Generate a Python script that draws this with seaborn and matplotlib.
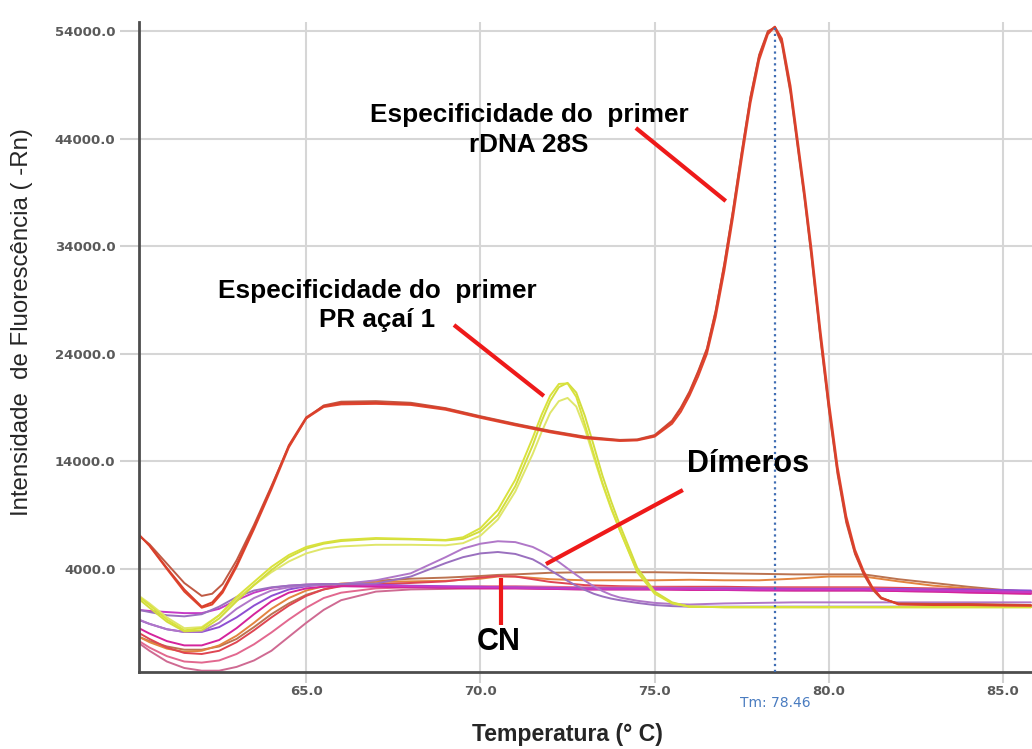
import numpy as np
import pandas as pd
import matplotlib
matplotlib.use("Agg")
import matplotlib.pyplot as plt
import seaborn as sns

# ---------------- data ----------------
temp_red = [60.2, 60.5, 61.0, 61.5, 62.0, 62.3, 62.6, 63.0, 63.5, 64.0, 64.5, 65.0, 65.5, 66.0, 67.0,
            68.0, 69.0, 70.0, 71.0, 72.0, 73.0, 74.0, 74.5, 75.0, 75.5, 75.75, 76.0, 76.25, 76.5, 76.75,
            77.0, 77.25, 77.5, 77.75, 78.0, 78.25, 78.45, 78.65, 78.9, 79.1, 79.3, 79.5, 79.75, 80.0, 80.25,
            80.5, 80.75, 81.0, 81.25, 81.5, 82.0, 83.0, 84.0, 85.0, 85.8]
red_a = [7160, 6200, 4100, 2100, 500, 900, 2000, 4400, 7900, 11600, 15500, 18100, 19150, 19430, 19450,
         19350, 18900, 18150, 17450, 16800, 16250, 15950, 16000, 16400, 17700, 18900, 20400, 22300, 24400, 27900,
         32300, 37300, 42700, 47800, 51700, 53900, 54400, 53000, 48400, 43500, 38600, 33200, 25800, 19000, 13000,
         8500, 5500, 3600, 2200, 1300, 750, 700, 700, 650, 600]
red_b = [7100, 6300, 4500, 2700, 1500, 1700, 2600, 4800, 8100, 11700, 15400, 18000, 19200, 19550, 19600,
         19450, 18950, 18200, 17500, 16850, 16300, 16000, 16050, 16450, 17800, 19000, 20500, 22400, 24500, 28000,
         32400, 37400, 42800, 47900, 51800, 54000, 54300, 52800, 48200, 43300, 38400, 33000, 25600, 18800, 12800,
         8300, 5400, 3500, 2100, 1250, 800, 750, 750, 700, 650]
red_c = [7200, 6150, 4000, 1900, 400, 700, 1800, 4200, 7700, 11400, 15300, 18000, 19050, 19300, 19350,
         19250, 18800, 18050, 17350, 16700, 16150, 15900, 15950, 16300, 17500, 18600, 20100, 21900, 24000, 27400,
         31700, 36700, 42100, 47300, 51300, 53700, 54400, 53300, 48900, 44000, 39100, 33800, 26400, 19600, 13500,
         8900, 5800, 3800, 2300, 1350, 700, 650, 650, 600, 600]

temp_peak = [60.2, 60.5, 61.0, 61.5, 62.0, 62.5, 63.0, 63.5, 64.0, 64.5, 65.0, 65.5, 66.0, 67.0, 68.0,
             69.0, 69.5, 70.0, 70.5, 71.0, 71.5, 71.75, 72.0, 72.25, 72.5, 72.75, 73.0, 73.25, 73.5, 73.75,
             74.0, 74.5, 75.0, 75.5, 76.0, 77.0, 78.0, 79.0, 80.0, 81.0, 82.0, 83.0, 84.0, 85.0, 85.8]
yellow_a = [1400, 650, -700, -1700, -1500, -300, 1400, 2800, 4200, 5300, 6050, 6450, 6700, 6880, 6800,
            6700, 6950, 7800, 9500, 12300, 16200, 18300, 20100, 21200, 21250, 20000, 17400, 14700, 12000, 9700,
            7600, 3700, 1700, 800, 500, 450, 450, 450, 450, 450, 450, 450, 450, 450, 450]
yellow_b = [1200, 400, -900, -1800, -1700, -600, 1000, 2500, 3900, 5100, 5900, 6350, 6600, 6800, 6750,
            6650, 6800, 7500, 9000, 11700, 15500, 17700, 19600, 20900, 21300, 20400, 18200, 15500, 12700, 10300,
            8100, 4100, 1900, 900, 500, 450, 450, 450, 450, 450, 450, 450, 450, 450, 450]
yellow_c = [1500, 800, -500, -1500, -1400, -300, 1200, 2500, 3700, 4700, 5450, 5900, 6100, 6250, 6250,
            6200, 6400, 7100, 8600, 11200, 14700, 16700, 18500, 19600, 19900, 19100, 17000, 14400, 11900, 9600,
            7600, 3800, 1800, 850, 500, 450, 450, 450, 450, 450, 450, 450, 450, 450, 450]
purple_a = [-700, -1100, -1600, -1850, -1800, -1000, 300, 1300, 2000, 2300, 2450, 2550, 2600, 2950, 3600,
            5100, 5900, 6350, 6580, 6500, 6050, 5650, 5200, 4650, 4050, 3450, 2900, 2400, 1950, 1600,
            1350, 1050, 850, 750, 700, 800, 850, 900, 900, 900, 900, 900, 900, 900, 900]
purple_b = [200, 0, -300, -400, -200, 500, 1400, 2000, 2300, 2450, 2550, 2600, 2600, 2650, 3300,
            4550, 5100, 5450, 5580, 5400, 4900, 4450, 3900, 3400, 2900, 2450, 2050, 1700, 1450, 1250,
            1100, 850, 650, 550, 500, 500, 500, 500, 500, 500, 500, 500, 500, 500, 500]

temp_base = [60.2, 60.5, 61.0, 61.5, 62.0, 62.5, 63.0, 63.5, 64.0, 64.5, 65.0, 65.5, 66.0, 67.0, 68.0,
             69.0, 70.0, 70.5, 71.0, 72.0, 73.0, 74.0, 75.0, 76.0, 77.0, 78.0, 79.0, 80.0, 81.0, 82.0,
             83.0, 84.0, 85.0, 85.8]
base_brown = [-2300, -2700, -3200, -3500, -3500, -3200, -2500, -1400, -200, 800, 1600, 2100, 2500, 2900, 3100,
              3200, 3350, 3450, 3500, 3650, 3700, 3700, 3700, 3650, 3600, 3550, 3500, 3500, 3500, 3050,
              2700, 2350, 2050, 1900]
base_orange = [-2300, -2800, -3400, -3700, -3600, -3100, -2200, -1000, 300, 1300, 2000, 2400, 2650, 2800, 2850,
               2900, 3100, 3300, 3300, 3050, 2950, 2950, 2950, 3000, 2950, 2950, 3100, 3300, 3300, 2850,
               2450, 2200, 1950, 1800]
base_red = [-1950, -2500, -3300, -3800, -3900, -3600, -2800, -1700, -500, 600, 1500, 2100, 2400, 2600, 2700,
            2850, 3200, 3350, 3300, 2800, 2500, 2400, 2350, 2350, 2350, 2300, 2300, 2300, 2300, 2250,
            2200, 2100, 2000, 1900]
base_pink = [-2700, -3300, -4100, -4600, -4700, -4500, -3900, -3000, -1900, -700, 400, 1300, 1800, 2200, 2300,
             2350, 2400, 2400, 2400, 2350, 2300, 2300, 2300, 2250, 2250, 2200, 2200, 2200, 2200, 2150,
             2100, 2000, 1900, 1800]
base_pink2 = [-2900, -3600, -4600, -5200, -5450, -5450, -5100, -4500, -3600, -2300, -1000, 200, 1100, 1900, 2100,
              2150, 2200, 2200, 2200, 2150, 2100, 2100, 2100, 2100, 2050, 2050, 2000, 2000, 2000, 1950,
              1900, 1850, 1750, 1700]
base_magenta = [190, 100, 0, -100, -100, 300, 1100, 1800, 2250, 2450, 2550, 2600, 2600, 2500, 2400,
                2350, 2300, 2300, 2250, 2200, 2150, 2150, 2150, 2150, 2100, 2100, 2100, 2100, 2100, 2050,
                2000, 1950, 1900, 1850]
base_violet = [-740, -1100, -1600, -1850, -1850, -1400, -500, 600, 1500, 2100, 2400, 2550, 2600, 2550, 2450,
               2400, 2350, 2300, 2300, 2250, 2200, 2200, 2200, 2200, 2200, 2200, 2150, 2150, 2150, 2150,
               2100, 2100, 2050, 2000]
base_magenta2 = [-1500, -2000, -2700, -3100, -3100, -2600, -1500, -200, 1000, 1800, 2200, 2350, 2400, 2350, 2300,
                 2250, 2200, 2200, 2200, 2150, 2100, 2100, 2100, 2050, 2050, 2000, 2000, 2000, 2000, 1950,
                 1900, 1800, 1750, 1700]

tm_value = 78.46
tm_peak = 54400
x_ticks = [65, 70, 75, 80, 85]
y_ticks = [4000, 14000, 24000, 34000, 44000, 54000]

# ---------------- assemble long table ----------------
curves = [
    ("base_brown", temp_base, base_brown, "#bb7350"),
    ("base_orange", temp_base, base_orange, "#e3843f"),
    ("base_red", temp_base, base_red, "#df4552"),
    ("base_pink", temp_base, base_pink, "#e2688f"),
    ("base_pink2", temp_base, base_pink2, "#cf6a92"),
    ("base_violet", temp_base, base_violet, "#8e4fd2"),
    ("base_magenta2", temp_base, base_magenta2, "#d4249c"),
    ("base_magenta", temp_base, base_magenta, "#c63ac6"),
    ("purple_a", temp_peak, purple_a, "#b077c8"),
    ("purple_b", temp_peak, purple_b, "#9a70bf"),
    ("yellow_c", temp_peak, yellow_c, "#dfe66a"),
    ("yellow_b", temp_peak, yellow_b, "#d2dd3e"),
    ("yellow_a", temp_peak, yellow_a, "#d9e23c"),
    ("red_b", temp_red, red_b, "#c05a44"),
    ("red_c", temp_red, red_c, "#e2452e"),
    ("red_a", temp_red, red_a, "#d8402c"),
]
frames = []
for name, t, v, _ in curves:
    frames.append(pd.DataFrame({"temp": t, "value": v, "curve": name}))
df = pd.concat(frames, ignore_index=True)
palette = {name: c for name, _, _, c in curves}

# ---------------- figure ----------------
sns.set_style("whitegrid")
plt.rcParams["font.family"] = ["Liberation Sans", "DejaVu Sans"]

fig = plt.figure(figsize=(10.32, 7.49), dpi=100)
ax = fig.add_axes([0.1347, 0.1028, 0.8653, 0.8678])

sns.lineplot(data=df, x="temp", y="value", hue="curve", palette=palette,
             hue_order=[c[0] for c in curves], estimator=None, sort=False,
             linewidth=1.4, legend=False, ax=ax)

ax.set_xlim(60.2, 85.83)
ax.set_ylim(-5573, 54838)
ax.set_xticks(x_ticks)
ax.set_yticks(y_ticks)
ax.set_xticklabels([f"{v:.1f}" for v in x_ticks])
ax.set_yticklabels([f"{v:.1f}" for v in y_ticks])
for lab in ax.get_xticklabels() + ax.get_yticklabels():
    lab.set_fontfamily("DejaVu Sans")
    lab.set_fontweight("bold")
    lab.set_fontsize(9.5)
    lab.set_color("#5a5a5a")
ax.tick_params(axis="x", length=8, width=1.5, color="#d2d2d2", pad=1, bottom=True)
ax.tick_params(axis="y", length=14, width=1.5, color="#d2d2d2", pad=3, left=True)
ax.grid(True, color="#d6d6d6", linewidth=1.5)
ax.set_axisbelow(True)
ax.set_xlabel("")
ax.set_ylabel("")
for s in ["top", "right"]:
    ax.spines[s].set_visible(False)
for s in ["left", "bottom"]:
    ax.spines[s].set_visible(True)
    ax.spines[s].set_color("#4d4d4d")
    ax.spines[s].set_linewidth(2)

# Tm marker
ax.vlines(tm_value, ax.get_ylim()[0], tm_peak, colors="#3f6db3", linestyles=":", linewidth=1.6, zorder=5)
ax.text(tm_value, -0.047, f"Tm: {tm_value:.2f}", transform=ax.get_xaxis_transform(),
        ha="center", va="center", fontsize=10, color="#4a7cc0", family="DejaVu Sans")

# annotation pointers
red_pointer = "#ee1a1a"
pointers = [((74.46, 44990), (77.04, 38200)),
            ((69.24, 26680), (71.82, 20080)),
            ((75.81, 11340), (71.88, 4460)),
            ((70.59, 3160), (70.59, -1200))]
for (x0, y0), (x1, y1) in pointers:
    ax.plot([x0, x1], [y0, y1], color=red_pointer, linewidth=3.0, solid_capstyle="butt", zorder=6)

txt_kw = dict(ha="center", va="center", fontweight="bold", color="black", zorder=7)
ax.text(71.39, 44800, "Especificidade do  primer\nrDNA 28S", fontsize=18.8, linespacing=1.3, **txt_kw)
ax.text(67.04, 28500, "Especificidade do  primer\nPR açaí 1", fontsize=18.8, linespacing=1.3, **txt_kw)
ax.text(77.67, 13800, "Dímeros", fontsize=22, **txt_kw)
ax.text(70.53, -2800, "CN", fontsize=22, **txt_kw)

fig.text(567 / 1032, 1 - 735 / 749, "Temperatura (° C)", ha="center", va="center",
         fontsize=16.6, fontweight="bold")
fig.text(22 / 1032, 1 - 322 / 749, "Intensidade  de Fluorescência ( -Rn)", ha="center", va="center",
         rotation=90, fontsize=17.3)

fig.savefig("out.png", dpi=100)
